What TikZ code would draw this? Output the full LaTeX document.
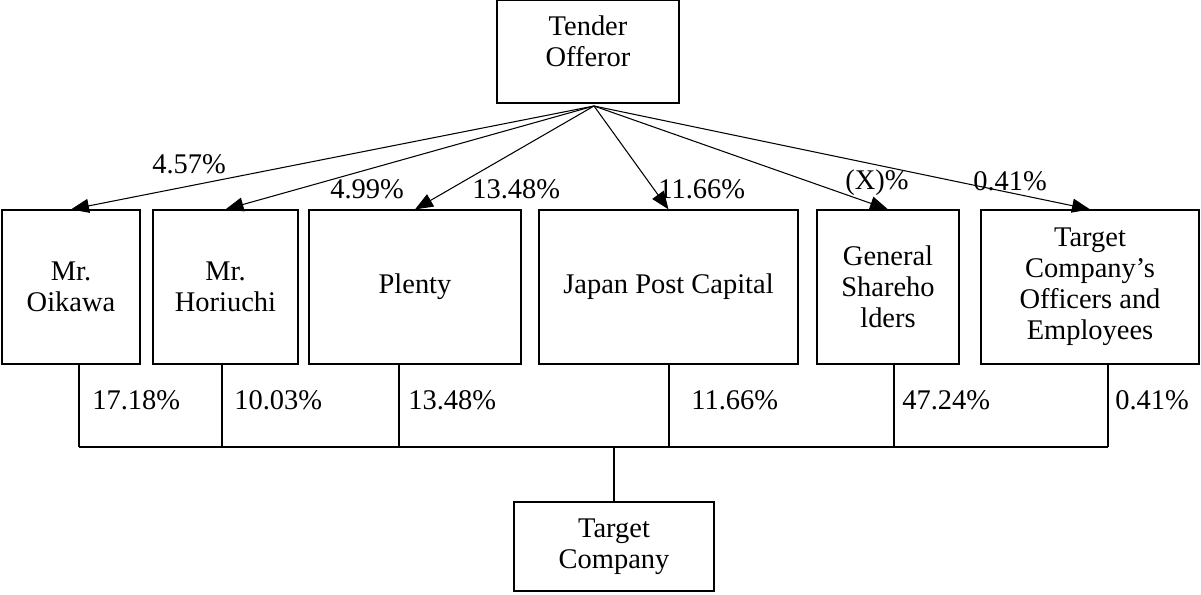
\documentclass[tikz,border=0pt]{standalone}
\usepackage{fontspec}
\setmainfont{Liberation Serif}
\usetikzlibrary{arrows.meta}

\begin{document}
\begin{tikzpicture}[
  font=\fontsize{16.2pt}{17.6pt}\selectfont,
  ent/.style={draw=black, line width=0.7pt, minimum height=3.08cm, inner sep=2pt, align=center},
  pct/.style={anchor=base west, inner sep=0pt},
  ar/.style ={-{Triangle[length=3.6mm,width=2.8mm]}, line width=0.6pt},
  ln/.style ={line width=0.6pt}
]
\useasboundingbox (0,0) rectangle (24.02,11.88);

% =============== offeror ===============
\node[ent, minimum width=3.64cm, minimum height=2.06cm, text depth=0.4cm] (tof) at (11.76,10.85) {Tender\\Offeror};
\coordinate (src) at (11.88,9.76);

% =============== shareholders ===============
\node[ent, minimum width=2.76cm] (oik) at (1.42,6.14)  {Mr.\\Oikawa};
\node[ent, minimum width=2.90cm] (hor) at (4.51,6.14)  {Mr.\\Horiuchi};
\node[ent, minimum width=4.24cm] (ple) at (8.30,6.14)  {Plenty};
\node[ent, minimum width=5.18cm] (jpc) at (13.37,6.14) {Japan Post Capital};
\node[ent, minimum width=2.84cm] (gen) at (17.76,6.14) {General\\Shareho\\lders};
\node[ent, minimum width=4.36cm] (off) at (21.80,6.14) {Target\\Company’s\\Officers and\\Employees};

\foreach \n in {oik,hor,ple,jpc,gen,off}
  \draw[ar] (src) -- (\n.north);

% stakes held by the offeror
\node[pct] (p1) at (3.04,8.42)  {4.57\%};
\node[pct] (p2) at (6.60,7.92)  {4.99\%};
\node[pct] (p3) at (9.44,7.92)  {13.48\%};
\node[pct] (p4) at (13.16,7.92) {11.66\%};
\node[pct] (p5) at (16.90,8.10) {(X)\%};
\node[pct] (p6) at (19.46,8.08) {0.41\%};

% =============== target ===============
\node[ent, minimum width=4.0cm, minimum height=1.78cm] (tgt) at (12.28,0.95) {Target\\Company};

\coordinate (b1) at (1.58,2.94);
\coordinate (b2) at (4.44,2.94);
\coordinate (b3) at (7.98,2.94);
\coordinate (b4) at (13.38,2.94);
\coordinate (b5) at (17.88,2.94);
\coordinate (b6) at (22.16,2.94);

\draw[ln] (b1) -- (b6);
\foreach \n/\b in {oik/b1,hor/b2,ple/b3,jpc/b4,gen/b5,off/b6}
  \draw[ln] (\n.south -| \b) -- (\b);
\draw[ln] (tgt.north) -- (tgt.north |- b1);

% stakes in the target
\node[pct] (q1) at (1.84,3.70)  {17.18\%};
\node[pct] (q2) at (4.68,3.70)  {10.03\%};
\node[pct] (q3) at (8.16,3.70)  {13.48\%};
\node[pct] (q4) at (13.82,3.70) {11.66\%};
\node[pct] (q5) at (18.04,3.70) {47.24\%};
\node[pct] (q6) at (22.30,3.70) {0.41\%};
\end{tikzpicture}
\end{document}
